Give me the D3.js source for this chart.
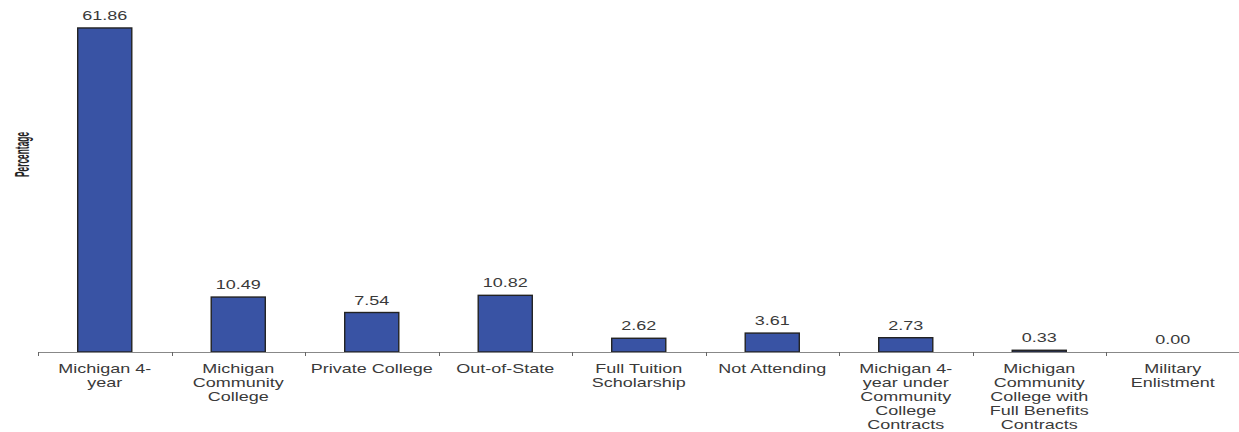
<!DOCTYPE html>
<html>
<head>
<meta charset="utf-8">
<script src="https://cdn.jsdelivr.net/npm/d3@7"></script>
<style>
  body { margin: 0; background: #fff; }
  svg text { font-family: Arial, "Liberation Sans", sans-serif; fill: #333; }
</style>
</head>
<body>
<svg id="chart" width="1239" height="432"></svg>
<script>
var categories = [
  "Michigan 4-year",
  "Michigan Community College",
  "Private College",
  "Out-of-State",
  "Full Tuition Scholarship",
  "Not Attending",
  "Michigan 4-year under Community College Contracts",
  "Michigan Community College with Full Benefits Contracts",
  "Military Enlistment"
];
var values = [61.86, 10.49, 7.54, 10.82, 2.62, 3.61, 2.73, 0.33, 0.00];
var labelLines = [
  ["Michigan 4-", "year"],
  ["Michigan", "Community", "College"],
  ["Private College"],
  ["Out-of-State"],
  ["Full Tuition", "Scholarship"],
  ["Not Attending"],
  ["Michigan 4-", "year under", "Community", "College", "Contracts"],
  ["Michigan", "Community", "College with", "Full Benefits", "Contracts"],
  ["Military", "Enlistment"]
];
var yTitle = "Percentage";

var svg = d3.select('#chart');
var baseY = 352;

var x = d3.scaleBand()
  .domain(categories)
  .range([38, 1239.5])
  .padding(0);

var y = d3.scaleLinear()
  .domain([0, 67.2])
  .range([baseY, 0]);

var barW = x.bandwidth() * 0.405;
var stretch = 1.5; // the text in the original is drawn wide

// bars
svg.append('g').selectAll('rect')
  .data(values)
  .enter().append('rect')
  .attr('x', function(d, i) { return x(categories[i]) + x.bandwidth() / 2 - barW / 2; })
  .attr('y', function(d) { return y(d); })
  .attr('width', barW)
  .attr('height', function(d) { return baseY - y(d); })
  .attr('fill', '#3953a4')
  .attr('stroke', '#222')
  .attr('stroke-width', 1.4);

// axis line and ticks at band edges
var axis = svg.append('g');
axis.append('line')
  .attr('x1', x.range()[0]).attr('x2', x.range()[1])
  .attr('y1', baseY + 0.5).attr('y2', baseY + 0.5)
  .attr('stroke', '#888').attr('stroke-width', 1);
axis.selectAll('line.tick')
  .data(categories)
  .enter().append('line')
  .attr('class', 'tick')
  .attr('x1', function(d) { return Math.round(x(d)) + 0.5; })
  .attr('x2', function(d) { return Math.round(x(d)) + 0.5; })
  .attr('y1', baseY).attr('y2', baseY + 4)
  .attr('stroke', '#666');

// value labels
svg.append('g').selectAll('text')
  .data(values)
  .enter().append('text')
  .attr('transform', function(d, i) {
    return 'translate(' + (x(categories[i]) + x.bandwidth() / 2) + ',' + (y(d) - 8) + ') scale(' + stretch + ',1)';
  })
  .attr('text-anchor', 'middle')
  .style('font-size', '12px')
  .style('fill', '#3a3a3a')
  .text(function(d) { return d.toFixed(2); });

// category labels
var cats = svg.append('g').selectAll('g')
  .data(categories)
  .enter().append('g')
  .attr('transform', function(d) { return 'translate(' + (x(d) + x.bandwidth() / 2) + ',373)'; });

cats.each(function(d, i) {
  d3.select(this).selectAll('text')
    .data(labelLines[i])
    .enter().append('text')
    .attr('transform', function(t, j) { return 'translate(0,' + (j * 14) + ') scale(' + stretch + ',1)'; })
    .attr('text-anchor', 'middle')
    .style('font-size', '12px')
    .style('fill', '#3a3a3a')
    .text(function(t) { return t; });
});

// y title
svg.append('text')
  .attr('transform', 'translate(28.5,154.5) rotate(-90) scale(0.67,1.6)')
  .attr('text-anchor', 'middle')
  .style('font-size', '12.5px')
  .style('font-weight', 'bold')
  .style('fill', '#222')
  .text(yTitle);
</script>
</body>
</html>
